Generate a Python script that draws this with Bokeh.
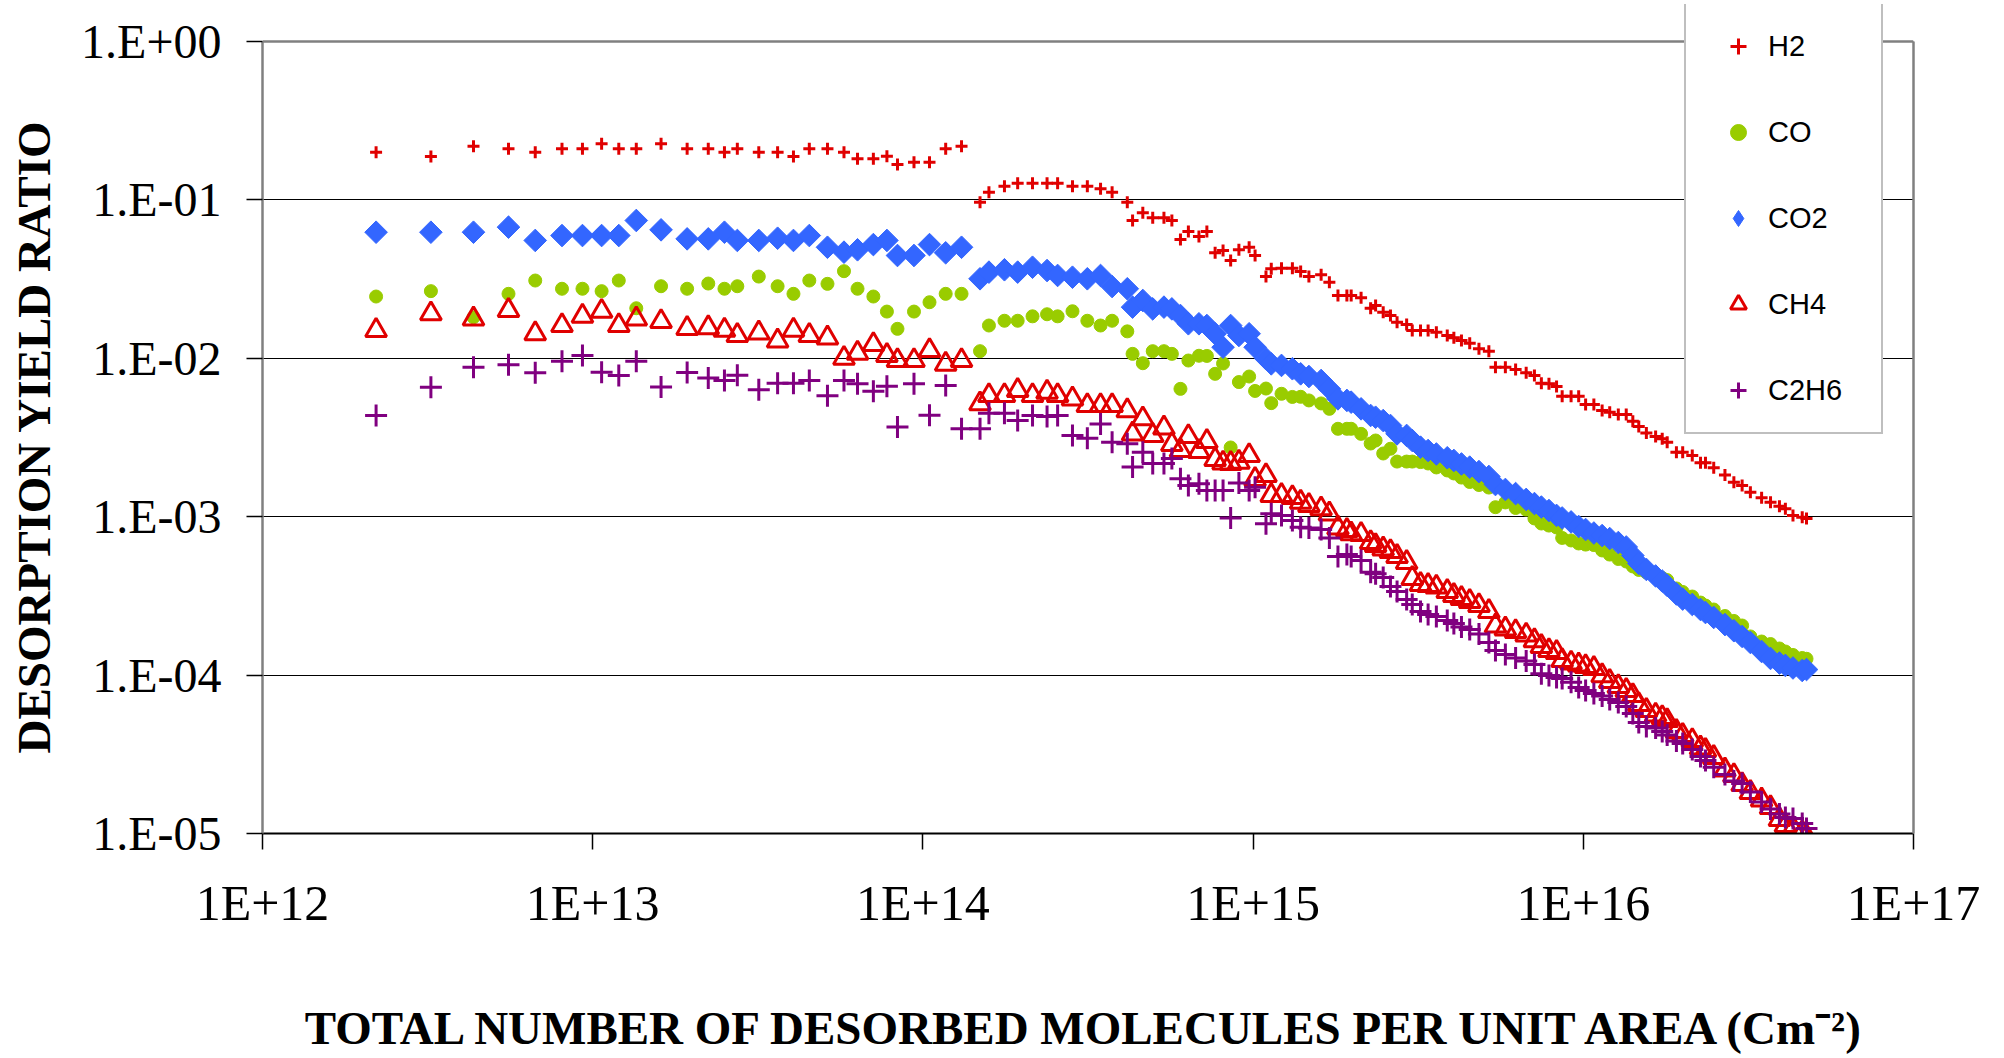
import numpy as np
from bokeh.plotting import figure
from bokeh.models import (ColumnDataSource, FixedTicker, CustomJSTickFormatter,
                          Legend, LegendItem, LogAxis, Span)
from bokeh.embed import file_html
from bokeh.resources import INLINE

# Total number of desorbed molecules per unit area, stored as decade exponents (log10)
dose_exp = [
    12.344, 12.510, 12.639, 12.745, 12.826, 12.907, 12.969, 13.027, 13.079, 13.132,
    13.207, 13.286, 13.350, 13.399, 13.438, 13.503, 13.560, 13.608, 13.656, 13.711,
    13.761, 13.802, 13.850, 13.891, 13.923, 13.973, 14.020, 14.069, 14.117,
    14.173, 14.200, 14.247, 14.287, 14.332, 14.376, 14.408, 14.453, 14.498, 14.538,
    14.573, 14.619, 14.635, 14.666, 14.696, 14.730, 14.754, 14.780, 14.804, 14.836,
    14.860, 14.885, 14.909, 14.932, 14.957, 14.988, 15.006, 15.039, 15.055, 15.086,
    15.119, 15.144, 15.169, 15.206, 15.231, 15.257, 15.284, 15.297, 15.327, 15.356,
    15.371, 15.394, 15.416, 15.436, 15.465, 15.482, 15.507, 15.530, 15.555, 15.588,
    15.608, 15.631, 15.656, 15.684, 15.714, 15.734, 15.764, 15.795, 15.827, 15.852,
    15.873, 15.896, 15.919, 15.936, 15.963, 15.986, 16.007, 16.032, 16.057, 16.080,
    16.106, 16.130, 16.150, 16.168, 16.191, 16.219, 16.239, 16.254, 16.282, 16.301,
    16.330, 16.355, 16.370, 16.395, 16.429, 16.456, 16.481, 16.506, 16.540, 16.567,
    16.594, 16.612, 16.635, 16.663, 16.676,
]

# Desorption yield ratios per gas, also stored as decade exponents
h2_exp = [
    -0.699, -0.726, -0.661, -0.677, -0.699, -0.677, -0.677, -0.646, -0.677, -0.677,
    -0.646, -0.677, -0.677, -0.699, -0.677, -0.699, -0.699, -0.726, -0.677, -0.677,
    -0.699, -0.741, -0.741, -0.724, -0.777, -0.762, -0.762, -0.677, -0.661,
    -1.015, -0.951, -0.914, -0.895, -0.895, -0.895, -0.895, -0.914, -0.914, -0.930,
    -0.951, -1.015, -1.130, -1.081, -1.113, -1.113, -1.130, -1.250, -1.199, -1.231,
    -1.199, -1.334, -1.319, -1.383, -1.315, -1.299, -1.351, -1.484, -1.435, -1.431,
    -1.431, -1.452, -1.484, -1.473, -1.520, -1.604, -1.604, -1.604, -1.618, -1.684,
    -1.667, -1.709, -1.730, -1.772, -1.787, -1.824, -1.824, -1.824, -1.835, -1.856,
    -1.871, -1.888, -1.905, -1.940, -1.955, -2.056, -2.056, -2.071, -2.092, -2.109,
    -2.157, -2.161, -2.178, -2.239, -2.239, -2.239, -2.292, -2.292, -2.330, -2.340,
    -2.355, -2.355, -2.397, -2.431, -2.471, -2.494, -2.508, -2.530, -2.593, -2.593,
    -2.614, -2.660, -2.660, -2.691, -2.736, -2.782, -2.803, -2.845, -2.881, -2.909,
    -2.934, -2.950, -2.992, -3.003, -3.011,
]

co_exp = [
    -1.610, -1.576, -1.741, -1.593, -1.509, -1.561, -1.561, -1.576, -1.509, -1.684,
    -1.545, -1.561, -1.528, -1.561, -1.545, -1.484, -1.545, -1.593, -1.509, -1.530,
    -1.450, -1.561, -1.610, -1.705, -1.814, -1.705, -1.646, -1.593, -1.593,
    -1.955, -1.793, -1.763, -1.763, -1.735, -1.722, -1.735, -1.703, -1.763, -1.793,
    -1.763, -1.830, -1.972, -2.031, -1.955, -1.955, -1.972, -2.193, -2.014, -1.984,
    -1.985, -2.098, -2.033, -2.563, -2.150, -2.115, -2.206, -2.191, -2.283, -2.224,
    -2.244, -2.243, -2.266, -2.285, -2.319, -2.445, -2.445, -2.445, -2.477, -2.538,
    -2.519, -2.601, -2.571, -2.652, -2.652, -2.652, -2.655, -2.664, -2.689, -2.708,
    -2.727, -2.753, -2.781, -2.800, -2.816, -2.940, -2.910, -2.945, -2.955, -3.011,
    -3.043, -3.056, -3.068, -3.134, -3.150, -3.169, -3.176, -3.179, -3.213, -3.239,
    -3.267, -3.283, -3.314, -3.336, -3.352, -3.368, -3.387, -3.400, -3.453, -3.475,
    -3.504, -3.542, -3.561, -3.586, -3.627, -3.658, -3.687, -3.756, -3.788, -3.804,
    -3.832, -3.851, -3.873, -3.892, -3.897,
]

co2_exp = [
    -1.204, -1.204, -1.204, -1.172, -1.256, -1.225, -1.225, -1.225, -1.225, -1.130,
    -1.189, -1.246, -1.246, -1.204, -1.256, -1.256, -1.242, -1.256, -1.225, -1.299,
    -1.330, -1.315, -1.282, -1.256, -1.351, -1.351, -1.282, -1.334, -1.299,
    -1.498, -1.456, -1.441, -1.456, -1.425, -1.446, -1.477, -1.488, -1.498, -1.477,
    -1.547, -1.561, -1.677, -1.635, -1.688, -1.677, -1.688, -1.730, -1.782, -1.782,
    -1.793, -1.845, -1.930, -1.793, -1.856, -1.845, -1.930, -2.003, -2.035, -2.045,
    -2.066, -2.098, -2.115, -2.140, -2.193, -2.256, -2.266, -2.277, -2.319, -2.361,
    -2.372, -2.393, -2.424, -2.477, -2.487, -2.519, -2.561, -2.582, -2.604, -2.628,
    -2.645, -2.667, -2.687, -2.715, -2.746, -2.797, -2.828, -2.854, -2.891, -2.917,
    -2.939, -2.961, -2.992, -3.008, -3.033, -3.062, -3.081, -3.103, -3.119, -3.138,
    -3.163, -3.191, -3.245, -3.295, -3.333, -3.374, -3.406, -3.434, -3.488, -3.520,
    -3.554, -3.586, -3.605, -3.636, -3.681, -3.720, -3.756, -3.794, -3.851, -3.895,
    -3.924, -3.939, -3.955, -3.971, -3.965,
]

ch4_exp = [
    -1.824, -1.719, -1.751, -1.698, -1.845, -1.793, -1.734, -1.703, -1.793, -1.751,
    -1.768, -1.811, -1.807, -1.822, -1.856, -1.840, -1.890, -1.822, -1.856, -1.871,
    -2.000, -1.968, -1.913, -1.982, -2.014, -2.014, -1.951, -2.037, -2.014,
    -2.287, -2.235, -2.235, -2.203, -2.235, -2.214, -2.235, -2.256, -2.298, -2.298,
    -2.298, -2.330, -2.477, -2.382, -2.487, -2.440, -2.544, -2.582, -2.494, -2.588,
    -2.525, -2.639, -2.661, -2.664, -2.656, -2.614, -2.765, -2.740, -2.866, -2.866,
    -2.879, -2.908, -2.929, -2.950, -2.982, -3.071, -3.087, -3.108, -3.112, -3.163,
    -3.182, -3.203, -3.220, -3.251, -3.289, -3.390, -3.428, -3.434, -3.444, -3.472,
    -3.497, -3.516, -3.535, -3.561, -3.598, -3.690, -3.708, -3.725, -3.747, -3.782,
    -3.819, -3.845, -3.857, -3.908, -3.924, -3.936, -3.946, -3.958, -4.003, -4.040,
    -4.072, -4.097, -4.129, -4.186, -4.223, -4.252, -4.268, -4.287, -4.356, -4.381,
    -4.413, -4.460, -4.476, -4.520, -4.599, -4.634, -4.691, -4.741, -4.788, -4.836,
    -4.912, -4.949, -4.968, -4.994, -5.019,
]

c2h6_exp = [
    -2.361, -2.182, -2.056, -2.041, -2.092, -2.018, -1.982, -2.088, -2.109, -2.018,
    -2.181, -2.090, -2.124, -2.140, -2.107, -2.198, -2.158, -2.158, -2.140, -2.237,
    -2.140, -2.161, -2.208, -2.177, -2.433, -2.161, -2.359, -2.172, -2.445,
    -2.445, -2.347, -2.347, -2.393, -2.361, -2.367, -2.361, -2.487, -2.504, -2.414,
    -2.530, -2.540, -2.687, -2.593, -2.664, -2.664, -2.633, -2.761, -2.803, -2.792,
    -2.835, -2.835, -2.835, -3.008, -2.787, -2.835, -2.814, -3.045, -2.982, -2.992,
    -3.024, -3.066, -3.071, -3.081, -3.134, -3.251, -3.239, -3.251, -3.277, -3.350,
    -3.360, -3.384, -3.441, -3.472, -3.523, -3.554, -3.598, -3.617, -3.630, -3.655,
    -3.674, -3.696, -3.712, -3.741, -3.794, -3.845, -3.870, -3.892, -3.911, -3.933,
    -3.992, -4.003, -4.015, -4.021, -4.045, -4.078, -4.097, -4.116, -4.132, -4.154,
    -4.173, -4.198, -4.242, -4.299, -4.324, -4.334, -4.356, -4.378, -4.416, -4.432,
    -4.470, -4.514, -4.539, -4.581, -4.627, -4.669, -4.684, -4.738, -4.801, -4.845,
    -4.877, -4.899, -4.905, -4.937, -4.968,
]

gas_names = ["H2", "CO", "CO2", "CH4", "C2H6"]
x_decades = [12, 13, 14, 15, 16, 17]
y_decades = [-5, -4, -3, -2, -1, 0]

RED = "#E00000"
GREEN = "#99CC00"
BLUE = "#3366FF"
PURPLE = "#800080"
FRAME_GREY = "#808080"

src = ColumnDataSource(dict(
    dose=[10.0 ** e for e in dose_exp],
    h2=[10.0 ** v for v in h2_exp],
    co=[10.0 ** v for v in co_exp],
    co2=[10.0 ** v for v in co2_exp],
    ch4=[10.0 ** v for v in ch4_exp],
    c2h6=[10.0 ** v for v in c2h6_exp],
))

# Layout: plot box runs from 1.E-05 up to 1.E+00 (792 px, 158.4 px per decade);
# the frame reaches 37 px higher so the legend box can rise above the top border.
PX_PER_DECADE = 158.4
HEADROOM_PX = 37
y_low = 10.0 ** y_decades[0]
y_high = 10.0 ** y_decades[-1]
y_frame_top = y_high * 10.0 ** (HEADROOM_PX / PX_PER_DECADE)

p = figure(width=2004, height=1058,
           x_axis_type="log", y_axis_type="log",
           x_range=(10.0 ** x_decades[0], 10.0 ** x_decades[-1]),
           y_range=(y_low, y_frame_top),
           output_backend="svg", toolbar_location=None,
           min_border_left=262, min_border_right=91,
           min_border_top=41 - HEADROOM_PX, min_border_bottom=225)

p.background_fill_color = "white"
p.border_fill_color = "white"
p.outline_line_color = None

# Ticks only at whole decades
p.xaxis.ticker = FixedTicker(ticks=[10.0 ** k for k in x_decades], minor_ticks=[])
p.yaxis.ticker = FixedTicker(ticks=[10.0 ** k for k in y_decades], minor_ticks=[])
p.yaxis.bounds = (y_low, y_high)
p.yaxis.formatter = CustomJSTickFormatter(code="""
const e = Math.round(Math.log10(tick));
const s = e < 0 ? '-' : '+';
return '1.E' + s + String(Math.abs(e)).padStart(2, '0');
""")
p.xaxis.formatter = CustomJSTickFormatter(code="""
const e = Math.round(Math.log10(tick));
return '1E+' + String(e);
""")

p.xgrid.visible = False
p.ygrid.grid_line_color = "black"
p.ygrid.grid_line_width = 1

for ax in (p.xaxis[0], p.yaxis[0]):
    ax.major_tick_in = 0
    ax.major_tick_out = 16
    ax.minor_tick_in = 0
    ax.minor_tick_out = 0
    ax.major_tick_line_color = "black"
    ax.major_tick_line_width = 1.5
    ax.major_label_text_font = "Liberation Serif"
    ax.major_label_text_color = "black"
    ax.axis_label_text_font = "Liberation Serif"
    ax.axis_label_text_font_style = "bold"
    ax.axis_label_text_color = "black"

p.yaxis.axis_line_color = FRAME_GREY
p.yaxis.axis_line_width = 2.5
p.xaxis.axis_line_color = "black"
p.xaxis.axis_line_width = 2

p.yaxis.major_label_text_font_size = "48px"
p.yaxis.major_label_standoff = 25
# trailing no-break spaces keep the title centred on the plot box rather than the taller frame
p.yaxis.axis_label = "DESORPTION YIELD RATIO" + "\u00a0" * 3
p.yaxis.axis_label_text_font_size = "47px"
p.yaxis.axis_label_standoff = 18

p.xaxis.major_label_text_font_size = "50px"
p.xaxis.major_label_standoff = 25
p.xaxis.axis_label = "TOTAL NUMBER OF DESORBED MOLECULES PER UNIT AREA (Cm\u207b\u00b2)"
p.xaxis.axis_label_text_font_size = "47px"
p.xaxis.axis_label_standoff = 68

# Right and top edges of the plot box
right_edge = LogAxis(bounds=(y_low, y_high), ticker=FixedTicker(ticks=[]),
                     axis_line_color=FRAME_GREY, axis_line_width=2.5,
                     major_tick_in=0, major_tick_out=0,
                     minor_tick_in=0, minor_tick_out=0)
p.add_layout(right_edge, "right")
p.add_layout(Span(location=y_high, dimension="width",
                  line_color=FRAME_GREY, line_width=2.5))

# Series, drawn in legend order so later gases sit on top
r_h2 = p.scatter("dose", "h2", source=src, marker="cross", size=12,
                 line_color=RED, line_width=3)
r_co = p.scatter("dose", "co", source=src, marker="circle", size=13,
                 fill_color=GREEN, line_color=GREEN)
r_co2 = p.scatter("dose", "co2", source=src, marker="square", angle=np.pi / 4,
                  size=16, fill_color=BLUE, line_color=BLUE)
r_ch4 = p.scatter("dose", "ch4", source=src, marker="triangle", size=21,
                  fill_color=None, line_color=RED, line_width=3)
r_c2h6 = p.scatter("dose", "c2h6", source=src, marker="cross", size=22,
                   line_color=PURPLE, line_width=3)

# Legend swatch for CO2: legend glyphs are drawn unrotated, so a hidden
# diamond-marker twin of the CO2 series supplies the key
co2_key = p.scatter("dose", "co2", source=src, marker="diamond",
                    fill_color=BLUE, line_color=BLUE, visible=False)

legend_renderers = [r_h2, r_co, co2_key, r_ch4, r_c2h6]
legend = Legend(
    items=[LegendItem(label=name, renderers=[r])
           for name, r in zip(gas_names, legend_renderers)],
    location=(1422, 399), orientation="vertical", margin=0,
    label_text_font="Liberation Sans", label_text_font_size="29px",
    label_text_color="black",
    glyph_width=60, glyph_height=40, label_height=40, label_width=91,
    label_standoff=0, spacing=46, padding=22,
    border_line_color=FRAME_GREY, border_line_width=2,
    background_fill_color="white", background_fill_alpha=1.0,
    inactive_fill_alpha=0.0,
)
p.add_layout(legend)

open("out.html", "w").write(file_html(p, INLINE))
